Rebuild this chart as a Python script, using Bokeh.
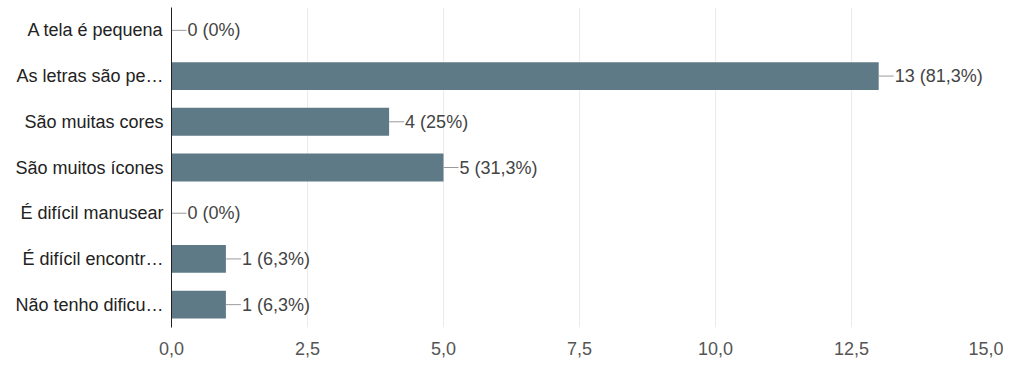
from bokeh.plotting import figure
from bokeh.models import FactorRange, Range1d, FixedTicker, CustomJSTickFormatter, ColumnDataSource
from bokeh.core.properties import value
from bokeh.embed import file_html
from bokeh.resources import INLINE

categories = ["A tela é pequena", "As letras são pe…", "São muitas cores", "São muitos ícones",
              "É difícil manusear", "É difícil encontr…", "Não tenho dificu…"]
counts = [0, 13, 4, 5, 0, 1, 1]
labels = ["0 (0%)", "13 (81,3%)", "4 (25%)", "5 (31,3%)", "0 (0%)", "1 (6,3%)", "1 (6,3%)"]
x_ticks = [0, 2.5, 5, 7.5, 10, 12.5, 15]

FONT = "Liberation Sans"
px_per_unit = 816 / 15.0
conn = 15 / px_per_unit

src = ColumnDataSource(dict(cat=categories, v=counts, lab=labels,
                            v1=[c + conn for c in counts]))

p = figure(width=1003, height=358, output_backend="svg", toolbar_location=None,
           y_range=FactorRange(factors=list(reversed(categories))),
           x_range=Range1d(0, 15),
           min_border_left=171, min_border_right=16, min_border_top=7, min_border_bottom=31)
p.outline_line_color = None
p.background_fill_color = "white"

p.hbar(y="cat", right="v", left=0, height=0.61, source=src, color="#5f7a87", line_color=None)
p.segment(x0="v", x1="v1", y0="cat", y1="cat", source=src, line_color="#9a9a9a", line_width=1)
p.text(x="v", y="cat", text="lab", source=src, x_offset=16, text_baseline="middle",
       text_font=value(FONT), text_font_size="18px", text_color="#444444")

p.xaxis.ticker = FixedTicker(ticks=x_ticks)
p.xaxis.formatter = CustomJSTickFormatter(code="return tick.toFixed(1).replace('.', ',');")
p.xaxis.axis_line_color = None
p.xaxis.major_tick_line_color = None
p.xaxis.minor_tick_line_color = None
p.xaxis.major_label_text_font = FONT
p.xaxis.major_label_text_font_size = "18px"
p.xaxis.major_label_text_color = "#555555"
p.xaxis.major_label_standoff = 8

p.yaxis.axis_line_color = "#222222"
p.yaxis.axis_line_width = 1
p.yaxis.major_tick_line_color = None
p.yaxis.minor_tick_line_color = None
p.yaxis.major_label_text_font = FONT
p.yaxis.major_label_text_font_size = "18px"
p.yaxis.major_label_text_color = "#222222"
p.yaxis.major_label_standoff = 2

p.xgrid.grid_line_color = "#ebebeb"
p.ygrid.grid_line_color = None

open("out.html", "w").write(file_html(p, INLINE))
